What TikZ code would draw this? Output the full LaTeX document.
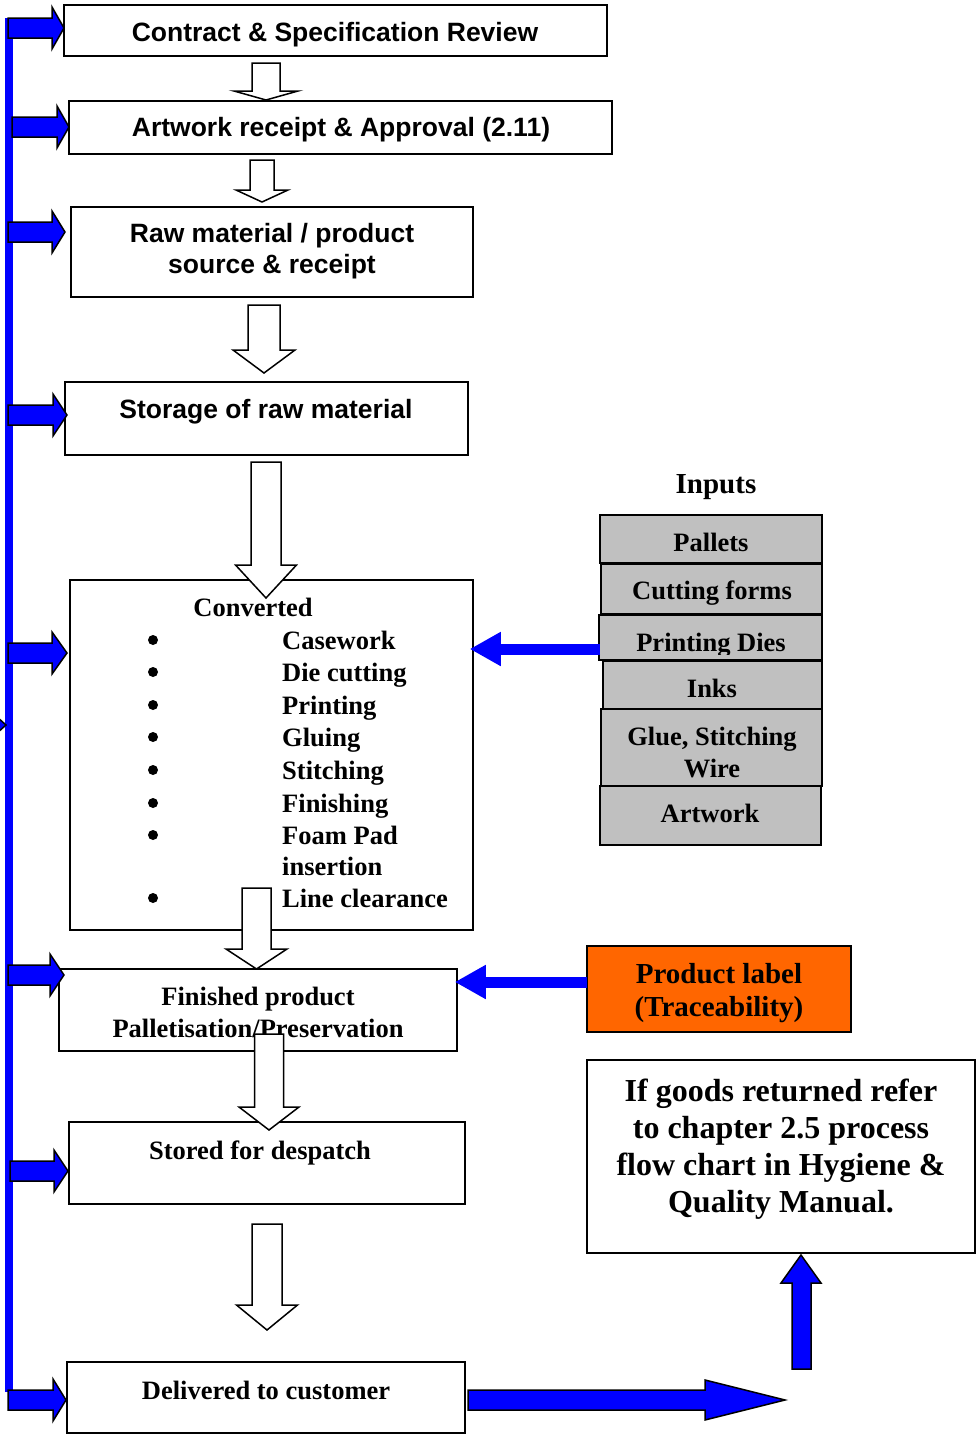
\documentclass[tikz,border=0pt]{standalone}
\usepackage{fontspec}
\setmainfont{Liberation Serif}
\newfontfamily\sansbold{Liberation Sans}
\usetikzlibrary{fit,arrows.meta}

\definecolor{flowblue}{RGB}{0,0,255}
\definecolor{inputgray}{RGB}{192,192,192}
\definecolor{labelorange}{RGB}{255,102,0}

\tikzset{
  stepbox/.style={draw, line width=1.5pt, fill=white, inner sep=0pt},
  inbox/.style={draw, line width=1.5pt, fill=inputgray, inner sep=0pt},
  hollow/.style={draw, line width=1.5pt, fill=white, line join=miter},
  bluearrow/.style={draw=black, line width=1.5pt, fill=flowblue, line join=miter},
  feed/.style={draw=flowblue, line width=11pt, -{Triangle[length=31pt,width=32pt]}},
  sanstext/.style={font=\sansbold\bfseries\fontsize{26.5}{31}\selectfont, align=center},
  seriftext/.style={font=\bfseries\fontsize{26.5}{32}\selectfont, align=center},
  listtext/.style={seriftext, anchor=west, inner xsep=0pt, text height=18pt, text depth=6pt},
  bigtext/.style={font=\bfseries\fontsize{32}{37}\selectfont, align=center}
}

% hollow down arrow: centre x, top, head base, tip, half shaft, half head
\newcommand{\openarrow}[6]{%
  \draw[hollow] (#1-#5,#2) -- (#1+#5,#2) -- (#1+#5,#3) -- (#1+#6,#3) -- (#1,#4)
    -- (#1-#6,#3) -- (#1-#5,#3) -- cycle;}
% blue arrow from the side line: y, start x, head base x, tip x
\newcommand{\sidearrow}[4]{%
  \draw[bluearrow] (#2,#1-10) -- (#3,#1-10) -- (#3,#1-21) -- (#4,#1)
    -- (#3,#1+21) -- (#3,#1+10) -- (#2,#1+10) -- cycle;}

\begin{document}
\begin{tikzpicture}[x=1pt,y=-1pt]
  \clip (0,0) rectangle (978,1438);
  \fill[white] (0,0) rectangle (978,1438);

  % main flow
  \node[stepbox, fit={(64,5) (607,56)}] (contract) {};
  \node[sanstext] (contract-t) at (335,35) {Contract \& Specification Review};
  \node[stepbox, fit={(69,101) (612,154)}] (artwork) {};
  \node[sanstext] (artwork-t) at (341,130) {Artwork receipt \& Approval (2.11)};
  \node[stepbox, fit={(71,207) (473,297)}] (rawmat) {};
  \node[sanstext] (rawmat-t) at (272,251) {Raw material / product\\source \& receipt};
  \node[stepbox, fit={(65,382) (468,455)}] (storage) {};
  \node[sanstext] (storage-t) at (266,412) {Storage of raw material};
  \node[stepbox, fit={(70,580) (473,930)}] (conv) {};
  \node[seriftext] (conv-t) at (253,607) {Converted};
  \foreach \ty/\tx in {640/Casework, 672/Die cutting, 705/Printing, 737/Gluing,
                       770/Stitching, 803/Finishing, 835/Foam Pad, 898/Line clearance} {
    \fill (153,\ty) circle (5pt);
    \node[listtext] (item\ty) at (282,\ty+3) {\tx};
  }
  \node[listtext] (item866) at (282,869) {insertion};
  \node[stepbox, fit={(59,969) (457,1051)}] (finished) {};
  \node[seriftext, text depth=0pt] (finished-t) at (258,1012) {Finished product\\Palletisation/Preservation};
  \node[stepbox, fit={(69,1122) (465,1204)}] (stored) {};
  \node[seriftext] (stored-t) at (260,1153) {Stored for despatch};
  \node[stepbox, fit={(67,1362) (465,1433)}] (delivered) {};
  \node[seriftext] (delivered-t) at (266,1390) {Delivered to customer};

  % inputs
  \node[seriftext, font=\bfseries\fontsize{29}{33}\selectfont] (inputs) at (716,487) {Inputs};
  \node[inbox, fit={(600,515) (822,563)}] (pallets) {};
  \node[seriftext] (pallets-t) at (711,542) {Pallets};
  \node[inbox, fit={(601,564) (822,614)}] (cutting) {};
  \node[seriftext] (cutting-t) at (712,593) {Cutting forms};
  \node[inbox, fit={(599,615) (822,660)}] (pdies) {};
  \begin{scope}
    \clip (599,615) rectangle (822,654);
    \node[seriftext] (pdies-t) at (711,645) {Printing Dies};
  \end{scope}
  \node[inbox, fit={(603,661) (822,709)}] (inks) {};
  \node[seriftext] (inks-t) at (712,688) {Inks};
  \node[inbox, fit={(601,709) (822,786)}] (glue) {};
  \node[seriftext] (glue-t) at (712,752) {Glue, Stitching\\Wire};
  \node[inbox, fit={(600,786) (821,845)}] (artin) {};
  \node[seriftext] (artin-t) at (710,813) {Artwork};

  \node[draw, line width=1.5pt, fill=labelorange, inner sep=0pt, fit={(587,946) (851,1032)}] (prodlabel) {};
  \node[seriftext, font=\bfseries\fontsize{29}{33}\selectfont] (prodlabel-t) at (719,993) {Product label\\(Traceability)};
  \node[stepbox, fit={(587,1060) (975,1253)}] (goods) {};
  \node[bigtext] (goods-t) at (781,1149) {If goods returned refer\\to chapter 2.5 process\\flow chart in Hygiene \&\\Quality Manual.};

  % hollow arrows between steps
  \openarrow{266}{63}{91}{100}{14}{32}
  \openarrow{262}{160}{190}{202}{12}{26}
  \openarrow{264}{305}{350}{373}{16}{31}
  \openarrow{266}{462}{565}{598}{15}{30.5}
  \openarrow{256.5}{888}{949}{969}{14.5}{30.5}
  \openarrow{269}{1034}{1107}{1130}{14.5}{30}
  \openarrow{267}{1224}{1305}{1330}{15}{30.5}

  % feeds
  \coordinate (feedin) at (600,649);
  \draw[feed, shorten >=-4pt] (feedin) -- (feedin -| conv.east);
  \coordinate (labelout) at (587,982);
  \draw[feed, shorten >=-3pt] (labelout) -- (labelout -| finished.east);

  % side line
  \draw[flowblue, line width=8pt] (9,18) -- (9,1392);
  \draw[bluearrow] (-4,716) -- (6,725) -- (-4,734);
  \sidearrow{28}{8}{52}{64}
  \sidearrow{127}{12}{57}{69}
  \sidearrow{232}{8}{52}{65}
  \sidearrow{415}{8}{53}{67}
  \sidearrow{653}{8}{52}{67}
  \sidearrow{975}{8}{50}{64}
  \sidearrow{1171}{10}{54}{68}
  \sidearrow{1400}{8}{53}{66}

  % out to returns
  \draw[bluearrow] (468,1390) -- (705,1390) -- (705,1380) -- (785,1400)
    -- (705,1420) -- (705,1410) -- (468,1410) -- cycle;
  \draw[bluearrow] (792,1369) -- (792,1283) -- (781,1283) -- (801,1255)
    -- (821,1283) -- (811,1283) -- (811,1369) -- cycle;
\end{tikzpicture}
\end{document}
